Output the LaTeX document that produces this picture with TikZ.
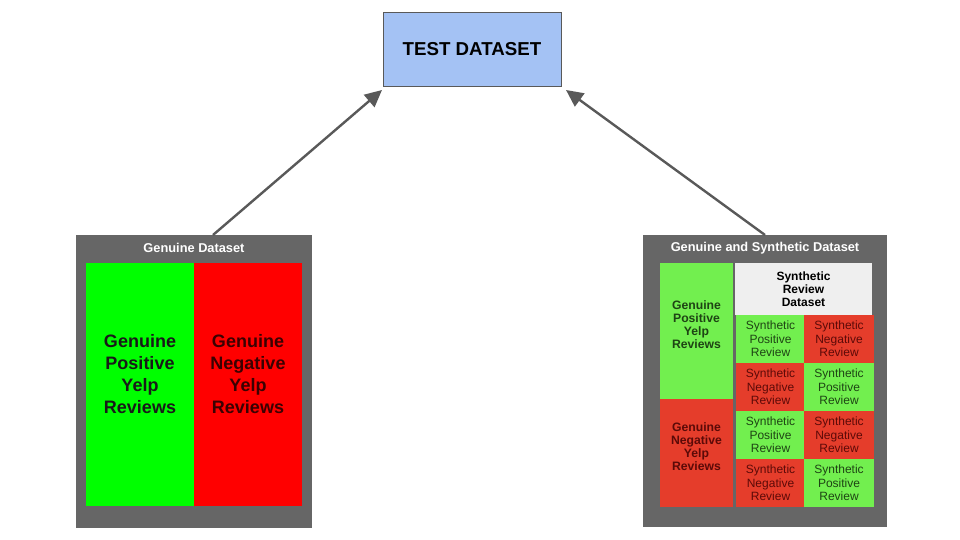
\documentclass[tikz,border=0pt]{standalone}
\usepackage{fontspec}
\setmainfont{Liberation Sans}
\usetikzlibrary{positioning,arrows.meta}
\definecolor{testblue}{HTML}{A4C2F4}
\definecolor{framegray}{HTML}{666666}
\definecolor{arrowgray}{HTML}{595959}
\definecolor{fullgreen}{HTML}{00FF00}
\definecolor{fullred}{HTML}{FF0000}
\definecolor{softgreen}{HTML}{72EF4F}
\definecolor{softred}{HTML}{E53D2B}
\definecolor{softgray}{HTML}{EFEFEF}
\definecolor{textgreen}{HTML}{1E4414}
\definecolor{textred}{HTML}{5C0A08}
\definecolor{deepred}{HTML}{3A0202}
\tikzset{
    block/.style={align=center, inner sep=0pt, outer sep=0pt},
    % Outer frames
    node_frame/.style={block, fill=framegray},
    node_title/.style={block, text=white, font=\fontsize{12.8}{15}\selectfont\bfseries},
    % Genuine Dataset halves
    node_pos/.style={block, fill=fullgreen, minimum width=108pt, minimum height=243pt},
    node_neg/.style={block, fill=fullred, minimum width=108pt, minimum height=243pt},
    big_text/.style={font=\fontsize{18}{22}\selectfont\bfseries, align=center, yshift=10pt},
    % Genuine and Synthetic Dataset cells
    node_gpos/.style={block, fill=softgreen, minimum width=73pt, minimum height=136pt},
    node_gneg/.style={block, fill=softred, minimum width=73pt, minimum height=108pt},
    small_bold/.style={font=\fontsize{12.2}{13}\selectfont\bfseries, align=center, yshift=6pt},
    node_spos/.style={block, fill=softgreen, text=textgreen, minimum width=70pt, minimum height=48pt, font=\fontsize{12}{13.5}\selectfont},
    node_sneg/.style={block, fill=softred, text=textred, minimum width=70pt, minimum height=48pt, font=\fontsize{12}{13.5}\selectfont},
    link/.style={draw=arrowgray, line width=2.4pt, -{Triangle[length=17pt,width=16pt]}}
}

\begin{document}
\begin{tikzpicture}[x=1pt, y=-1pt]
    \useasboundingbox (0,0) rectangle (960,540);

    \node[block, fill=testblue, draw=arrowgray, line width=0.6pt, minimum width=178pt, minimum height=74pt,
          font=\fontsize{18.7}{22}\selectfont\bfseries] (test_set) at (472,49) {TEST DATASET};

    % Genuine Dataset
    \node[node_frame, minimum width=236pt, minimum height=293pt] (gen_box) at (194,381.5) {};
    \node[node_title] (gen_title) at (194,248) {Genuine Dataset};
    \node[node_pos] (gen_pos) at (140,384.5) {};
    \node[node_neg] (gen_neg) at (248,384.5) {};
    \node[big_text, text=black!90] (gen_pos_txt) at (gen_pos) {Genuine\\Positive\\Yelp\\Reviews};
    \node[big_text, text=deepred] (gen_neg_txt) at (gen_neg) {Genuine\\Negative\\Yelp\\Reviews};

    % Genuine and Synthetic Dataset
    \node[node_frame, minimum width=244pt, minimum height=292pt] (syn_box) at (765,381) {};
    \node[node_title] (syn_title) at (765,248) {Genuine and Synthetic Dataset};
    \node[node_gpos] (syn_gpos) at (696.5,331) {};
    \node[node_gneg] (syn_gneg) at (696.5,453) {};
    \node[small_bold, text=textgreen] (syn_gpos_txt) at (syn_gpos) {Genuine\\Positive\\Yelp\\Reviews};
    \node[small_bold, text=textred] (syn_gneg_txt) at (syn_gneg) {Genuine\\Negative\\Yelp\\Reviews};
    \node[block, fill=softgray, minimum width=137pt, minimum height=52pt,
          font=\fontsize{12}{13}\selectfont\bfseries] (syn_head) at (803.5,289) {Synthetic\\Review\\Dataset};

    \node[node_spos] (c11) at (770.5,339) {Synthetic\\Positive\\Review};
    \node[node_sneg] (c12) at (839,339) {Synthetic\\Negative\\Review};
    \node[node_sneg] (c21) at (770.5,387) {Synthetic\\Negative\\Review};
    \node[node_spos] (c22) at (839,387) {Synthetic\\Positive\\Review};
    \node[node_spos] (c31) at (770.5,435) {Synthetic\\Positive\\Review};
    \node[node_sneg] (c32) at (839,435) {Synthetic\\Negative\\Review};
    \node[node_sneg] (c41) at (770.5,483) {Synthetic\\Negative\\Review};
    \node[node_spos] (c42) at (839,483) {Synthetic\\Positive\\Review};

    \draw[link] ([xshift=19pt]gen_box.north) -- ([xshift=-1pt,yshift=-4pt]test_set.south west);
    \draw[link] (syn_box.north) -- ([xshift=5pt,yshift=-4pt]test_set.south east);
\end{tikzpicture}
\end{document}
